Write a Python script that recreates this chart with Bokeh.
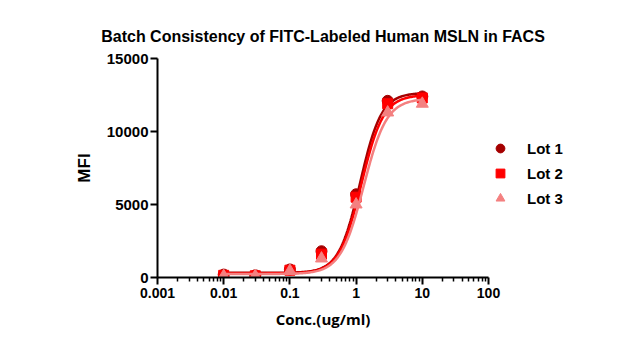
import numpy as np
from bokeh.plotting import figure
from bokeh.models import FixedTicker, Legend, LegendItem, Range1d
from bokeh.embed import file_html
from bokeh.resources import INLINE

# ---- data ----
conc = [0.01, 0.03, 0.1, 0.3, 1, 3, 10]
lot1 = [200, 150, 550, 1800, 5700, 12100, 12400]
lot2 = [150, 120, 500, 1600, 5500, 11900, 12300]
lot3 = [100, 100, 450, 1300, 5000, 11300, 11900]
series_names = ["Lot 1", "Lot 2", "Lot 3"]
colors = ["#a50000", "#ff0000", "#f48080"]
# 4PL fit parameters (bottom, top, EC50, hill) estimated from the drawn curves
fits = [(320, 12650, 1.15, 2.7), (280, 12500, 1.2, 2.6), (240, 12250, 1.3, 2.5)]
x_ticks = [0.001, 0.01, 0.1, 1, 10, 100]
x_tick_labels = ["0.001", "0.01", "0.1", "1", "10", "100"]
y_ticks = [0, 5000, 10000, 15000]

FONT = "Liberation Sans"

p = figure(frame_width=331, frame_height=219, x_axis_type="log",
           x_range=Range1d(0.001, 100), y_range=Range1d(0, 15000),
           output_backend="svg", toolbar_location=None,
           min_border_left=157, min_border_right=153, min_border_top=58, min_border_bottom=69,
           title="Batch Consistency of FITC-Labeled Human MSLN in FACS")
p.outline_line_color = None
p.xgrid.visible = False
p.ygrid.visible = False

xaxis = p.xaxis[0]
yaxis = p.yaxis[0]
xaxis.ticker = FixedTicker(ticks=x_ticks,
                           minor_ticks=[m * 10.0 ** e for e in range(-3, 2) for m in range(2, 10)])
xaxis.major_label_overrides = {t: l for t, l in zip(x_ticks, x_tick_labels)}
xaxis.axis_label = "Conc.(ug/ml)"
yaxis.ticker = FixedTicker(ticks=y_ticks, minor_ticks=[])
yaxis.axis_label = "MFI"
for ax in (xaxis, yaxis):
    ax.axis_line_width = 2
    ax.axis_line_color = "black"
    ax.major_tick_line_width = 2
    ax.major_tick_line_color = "black"
    ax.major_tick_out = 7
    ax.major_tick_in = 0
    ax.minor_tick_line_width = 1.5
    ax.minor_tick_line_color = "black"
    ax.minor_tick_out = 4
    ax.minor_tick_in = 0
    ax.major_label_text_font = FONT
    ax.major_label_text_font_style = "bold"
    ax.major_label_text_font_size = "15px"
    ax.major_label_text_color = "black"
    ax.axis_label_text_font_style = "bold"
    ax.axis_label_text_color = "black"
xaxis.major_label_text_font_size = "14px"
xaxis.axis_label_text_font = "Open Sans"
xaxis.axis_label_text_font_size = "15px"
xaxis.axis_label_standoff = 8
xaxis.major_label_standoff = 3
yaxis.axis_label_text_font = FONT
yaxis.axis_label_text_font_size = "17px"
yaxis.axis_label_standoff = 10
yaxis.major_label_standoff = 2

p.title.align = "center"
p.title.text_font = FONT
p.title.text_font_style = "bold"
p.title.text_font_size = "16px"
p.title.text_color = "black"
p.title.standoff = 28

xs = np.logspace(np.log10(conc[0]), np.log10(conc[-1]), 200)
data = [lot1, lot2, lot3]
markers = ["circle", "square", "triangle"]
sizes = [11, 10, 12]
items = []
for name, vals, col, (b, t, ec, h), mk, sz in zip(series_names, data, colors, fits, markers, sizes):
    ys = b + (t - b) / (1 + (ec / xs) ** h)
    p.line(xs, ys, line_color=col, line_width=2.5)
    r = p.scatter(conc, vals, marker=mk, size=sz, fill_color=col, line_color=col)
    items.append(LegendItem(label=name, renderers=[r]))

legend = Legend(items=items, location=(1, 68), border_line_color=None,
                background_fill_alpha=0, label_text_font=FONT, label_text_font_style="bold",
                label_text_font_size="15px", label_text_color="black",
                spacing=3, glyph_width=22, glyph_height=22,
                label_standoff=16, padding=0, margin=0)
p.add_layout(legend, "right")

open("out.html", "w").write(file_html(p, INLINE))
